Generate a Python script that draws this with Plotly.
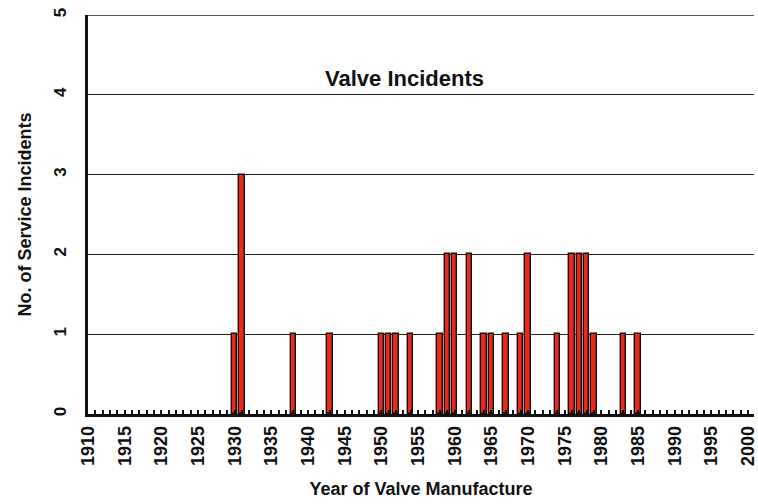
import plotly.graph_objects as go

# Service incidents by year of valve manufacture
years = [1930, 1931, 1938, 1943, 1950, 1951, 1952, 1954, 1958, 1959, 1960, 1962,
         1964, 1965, 1967, 1969, 1970, 1974, 1976, 1977, 1978, 1979, 1983, 1985]
incidents = [1, 3, 1, 1, 1, 1, 1, 1, 1, 2, 2, 2,
             1, 1, 1, 1, 2, 1, 2, 2, 2, 1, 1, 1]
tick_years = list(range(1910, 2001, 5))
y_ticks = [0, 1, 2, 3, 4, 5]
y_max = 5

font_family = "Liberation Sans, Arial, sans-serif"

fig = go.Figure()
fig.add_trace(go.Bar(
    x=years, y=incidents, width=0.72,
    marker=dict(color="#e8291e", line=dict(color="#1a0a08", width=1.4)),
))

fig.update_layout(
    width=758, height=504,
    margin=dict(l=88, r=0, t=15, b=90),
    paper_bgcolor="white", plot_bgcolor="white",
    showlegend=False, bargap=0,
    font=dict(family=font_family, color="#111"),
    annotations=[dict(
        text="Valve Incidents", x=0.475, y=0.842, xref="paper", yref="paper",
        xanchor="center", yanchor="middle", showarrow=False,
        font=dict(size=22, weight="bold", color="#111"),
    )],
    # top border of the plotting area
    shapes=[dict(type="line", xref="paper", yref="y", x0=0, x1=1,
                 y0=y_max, y1=y_max, line=dict(color="#222", width=1.6))],
)

fig.update_xaxes(
    range=[1910, 2000.8], tickmode="array", tickvals=tick_years,
    ticktext=[str(v) for v in tick_years], tickangle=-90,
    tickfont=dict(size=18, weight="bold", color="#111"),
    ticklabeloverflow="allow", ticklabelstandoff=2,
    ticks="inside", ticklen=4, tickwidth=2, tickcolor="#111",
    minor=dict(ticks="inside", dtick=1, tick0=1910, ticklen=4, tickwidth=2, tickcolor="#111", showgrid=False),
    showline=True, linecolor="#111", linewidth=2.5, mirror=False,
    showgrid=False, zeroline=False,
    title=dict(text="Year of Valve Manufacture", standoff=18,
               font=dict(size=18, weight="bold", color="#111")),
)

fig.update_yaxes(
    range=[0, y_max], tickmode="array", tickvals=y_ticks,
    ticktext=[str(v) for v in y_ticks], tickangle=-90,
    tickfont=dict(size=17, weight="bold", color="#111"),
    ticks="", ticklabelstandoff=12,
    showline=True, linecolor="#111", linewidth=2.5,
    showgrid=True, gridcolor="#222", gridwidth=1.4, zeroline=False,
    title=dict(text="No. of Service Incidents", standoff=16,
               font=dict(size=18, weight="bold", color="#111")),
)

fig.write_html("out.html")
